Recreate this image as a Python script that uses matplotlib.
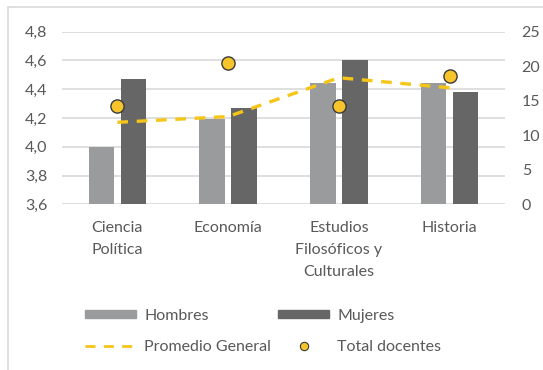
import matplotlib
matplotlib.use("Agg")
import matplotlib.pyplot as plt
from matplotlib.patches import Rectangle, Patch
from matplotlib.lines import Line2D
import numpy as np

plt.rcParams['font.family'] = ['Lato', 'DejaVu Sans']

categorias = ["Ciencia\nPolítica", "Economía", "Estudios\nFilosóficos y\nCulturales", "Historia"]
hombres = [4.00, 4.19, 4.44, 4.44]
mujeres = [4.47, 4.27, 4.60, 4.38]
promedio_general = [4.17, 4.21, 4.48, 4.41]
total_docentes = [14.2, 20.4, 14.2, 18.6]

left_ticks = [3.6, 3.8, 4.0, 4.2, 4.4, 4.6, 4.8]
right_ticks = [0, 5, 10, 15, 20, 25]

txt = "#595959"
grid = "#d9d9d9"
c_h = "#9a9b9c"
c_m = "#666666"
yellow = "#f5c518"
fs = 11.5

fig = plt.figure(figsize=(5.43, 3.70), dpi=100)
# light frame around the chart
fig.patches.append(Rectangle((8 / 543, -0.1), 1.2, 1.1 - 7.5 / 370, transform=fig.transFigure,
                             fill=False, edgecolor=grid, linewidth=1.2))

ax = fig.add_axes([62 / 543, (370 - 204.3) / 370, (505 - 62) / 543, 172.6 / 370])
x = np.arange(len(categorias))
w = 0.23
ax.bar(x - 0.145, hombres, w, color=c_h, zorder=2)
ax.bar(x + 0.145, mujeres, w, color=c_m, zorder=2)
ax.plot(x, promedio_general, color=yellow, lw=2.4, ls=(0, (3.2, 2.6)), zorder=3)

ax.set_ylim(3.6, 4.8)
ax.set_xlim(-0.5, len(categorias) - 0.5)
ax.set_yticks(left_ticks)
ax.set_yticklabels([f"{v:.1f}".replace(".", ",") for v in left_ticks])
ax.set_xticks(x)
ax.set_xticklabels(categorias, linespacing=1.75, va="top")
for s in ax.spines.values():
    s.set_visible(False)
ax.yaxis.grid(True, color=grid, lw=1.2, zorder=0)
ax.set_axisbelow(True)
ax.tick_params(axis="both", length=0, labelsize=fs, colors=txt)
ax.tick_params(axis="y", pad=10.5)
ax.tick_params(axis="x", pad=12)

ax2 = ax.twinx()
ax2.plot(x, total_docentes, "o", ms=9.5, mfc="#f7c52b", mec="#3a3a3a", mew=1.0, zorder=4)
ax2.set_ylim(0, 25)
ax2.set_yticks(right_ticks)
for s in ax2.spines.values():
    s.set_visible(False)
ax2.tick_params(axis="y", length=0, labelsize=fs, colors=txt, pad=12)

handles = [
    Patch(color=c_h),
    Line2D([], [], color=yellow, lw=2, ls=(0, (3.6, 3.0))),
    Patch(color=c_m),
    Line2D([], [], ls="", marker="o", ms=6, mfc="#f7c52b", mec="#3a3a3a", mew=0.8),
]
labels = ["Hombres", "Promedio General", "Mujeres", "Total docentes"]
leg = fig.legend(handles, labels, ncol=2, loc="upper left", bbox_to_anchor=(77 / 543, 1 - 301 / 370),
                 frameon=False, fontsize=fs, handlelength=3.2, handleheight=0.35,
                 handletextpad=0.5, columnspacing=0.45, labelspacing=1.05, borderpad=0)
for t in leg.get_texts():
    t.set_color(txt)

fig.savefig("out.png", dpi=100)
